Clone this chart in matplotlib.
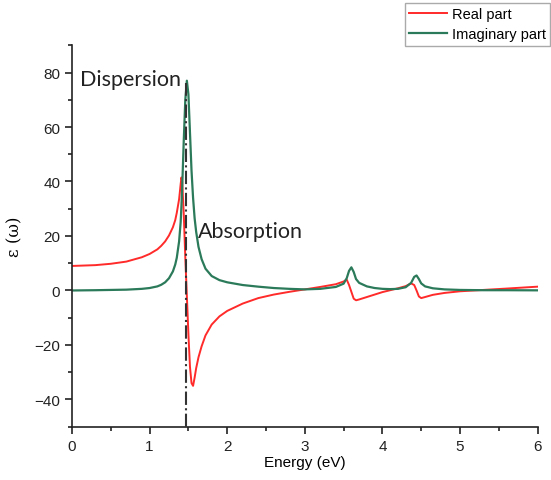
import matplotlib.pyplot as plt
import numpy as np
from matplotlib.ticker import MultipleLocator

# energy (eV) and dielectric function
energy = [0.0, 0.3, 0.5, 0.7, 0.9, 1.0, 1.1, 1.15, 1.2, 1.25, 1.3, 1.33, 1.35, 1.38,
          1.40, 1.41, 1.42, 1.44, 1.46, 1.48, 1.50, 1.52, 1.54, 1.56, 1.58, 1.60,
          1.63, 1.67, 1.72, 1.8, 1.9, 2.0, 2.2, 2.4, 2.6, 2.8, 3.0, 3.2, 3.4, 3.5,
          3.54, 3.57, 3.60, 3.63, 3.66, 3.7, 3.8, 3.9, 4.0, 4.1, 4.2, 4.3, 4.37,
          4.41, 4.44, 4.47, 4.50, 4.55, 4.65, 4.8, 5.0, 5.3, 5.6, 6.0]
eps_real = [9.0, 9.3, 9.8, 10.6, 12.2, 13.4, 15.1, 16.4, 18.0, 20.2, 23.2, 25.8, 28.5, 33.5,
            39.0, 41.5, 40.0, 28.0, 12.0, -2.0, -16.0, -28.0, -34.0, -35.0, -32.0, -28.5,
            -24.5, -20.5, -16.5, -12.5, -9.5, -7.5, -4.8, -2.8, -1.5, -0.5, 0.4, 1.3, 2.3, 3.3,
            4.0, 2.0, -0.5, -3.0, -3.6, -3.3, -2.4, -1.5, -0.6, 0.1, 0.8, 1.6, 2.6,
            2.0, 0.0, -2.2, -2.8, -2.4, -1.6, -0.9, -0.3, 0.2, 0.7, 1.4]
eps_imag = [0.0, 0.1, 0.2, 0.3, 0.6, 0.9, 1.5, 2.1, 3.0, 4.5, 7.0, 9.5, 12.0, 18.0,
            25.0, 31.0, 38.0, 55.0, 70.0, 77.0, 72.0, 58.0, 44.0, 34.0, 26.5, 21.5,
            16.0, 11.5, 8.0, 5.3, 3.8, 3.0, 2.0, 1.4, 0.9, 0.6, 0.4, 0.6, 1.3, 2.5,
            4.5, 7.2, 8.5, 6.8, 4.2, 2.8, 1.5, 0.9, 0.6, 0.5, 0.6, 1.2, 2.8,
            5.0, 5.5, 4.2, 2.6, 1.5, 0.8, 0.4, 0.2, 0.1, 0.1, 0.05]
peak_energy = 1.475
peak_top = 76

fig = plt.figure(figsize=(5.51, 4.81), dpi=100)
ax = fig.add_axes([0.1307, 0.1108, 0.845, 0.793])

l1, = ax.plot(energy, eps_real, color='#ff2a2a', lw=1.4, label='Real part')
l2, = ax.plot(energy, eps_imag, color='#2b7a5a', lw=1.6, label='Imaginary part')
ax.plot([peak_energy, peak_energy], [-50, peak_top], color='#333333', lw=1.5,
        linestyle='-.', zorder=3)

ax.set_xlim(0, 6)
ax.set_ylim(-50, 90)
ax.xaxis.set_major_locator(MultipleLocator(1))
ax.xaxis.set_minor_locator(MultipleLocator(0.5))
ax.yaxis.set_major_locator(MultipleLocator(20))
ax.yaxis.set_minor_locator(MultipleLocator(10))
ax.set_yticks([-40, -20, 0, 20, 40, 60, 80])
ax.spines['top'].set_visible(False)
ax.spines['right'].set_visible(False)
for s in ['left', 'bottom']:
    ax.spines[s].set_linewidth(1.2)
    ax.spines[s].set_color('#222222')
ax.tick_params(which='major', direction='out', length=5, width=1.2, labelsize=11,
               colors='#222222')
ax.tick_params(which='minor', direction='out', length=3, width=1.2, colors='#222222')
for lab in ax.get_xticklabels() + ax.get_yticklabels():
    lab.set_family('Liberation Sans')

ax.set_xlabel('Energy (eV)', fontsize=11, family='Liberation Sans', labelpad=2)
ax.set_ylabel('ε (ω)', fontsize=12, family='DejaVu Serif', labelpad=8)

ax.text(0.1, 77.5, 'Dispersion', fontsize=15.5, family='Lato', va='center', ha='left',
        color='#222222')
ax.text(1.62, 21.8, 'Absorption', fontsize=15.5, family='Lato', va='center', ha='left',
        color='#222222')

fig.legend(handles=[l1, l2], loc='upper left', bbox_to_anchor=(405 / 551, 1 - 4 / 481),
           fancybox=False, edgecolor='#aaaaaa', framealpha=1, borderaxespad=0,
           handlelength=2.6, handletextpad=0.3, labelspacing=0.4, borderpad=0.3,
           prop={'family': 'Liberation Sans', 'size': 10.5})

fig.savefig('out.png', dpi=100)
